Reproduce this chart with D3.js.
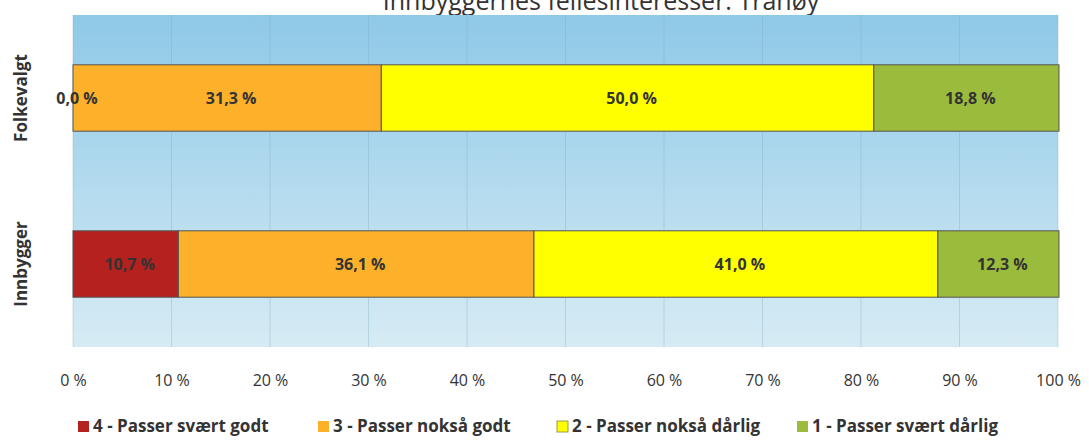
<!DOCTYPE html>
<html>
<head>
<meta charset="utf-8">
<script src="https://cdn.jsdelivr.net/npm/d3@7"></script>
<style>
  body { margin: 0; background: #fff; }
  svg { display: block; }
  text { font-family: "Open Sans", sans-serif; fill: #333; }
</style>
</head>
<body>
<svg id="chart"></svg>
<script>
// verdier lest av bildet
var kategorier = ["Folkevalgt", "Innbygger"];
var serier = ["4 - Passer svært godt", "3 - Passer nokså godt", "2 - Passer nokså dårlig", "1 - Passer svært dårlig"];
var folkevalgt = [0.0, 31.3, 50.0, 18.8];
var innbygger = [10.7, 36.1, 41.0, 12.3];
var xTicks = [0, 10, 20, 30, 40, 50, 60, 70, 80, 90, 100];
var farger = ["#b4211f", "#fdb12a", "#ffff00", "#9bbb3c"];
var tittel = "Innbyggernes fellesinteresser: Tranøy";

var width = 1089, height = 441;
var margin = { top: 15, right: 31, bottom: 94, left: 73 };
var w = width - margin.left - margin.right,
    h = height - margin.top - margin.bottom;

var svg = d3.select("#chart").attr("width", width).attr("height", height);

// bakgrunnsgradient
var defs = svg.append("defs");
var grad = defs.append("linearGradient").attr("id", "bg")
    .attr("x1", 0).attr("y1", 0).attr("x2", 0).attr("y2", 1);
grad.append("stop").attr("offset", "0%").attr("stop-color", "#8ec9e7");
grad.append("stop").attr("offset", "50%").attr("stop-color", "#b2daee");
grad.append("stop").attr("offset", "100%").attr("stop-color", "#d6ebf4");

// tittelen er delvis kuttet i toppen, som i originalen
svg.append("text")
    .attr("x", 601).attr("y", 10)
    .attr("text-anchor", "middle")
    .style("font-size", "25px")
    .text(tittel);

var g = svg.append("g").attr("transform", "translate(" + margin.left + "," + margin.top + ")");

var x = d3.scaleLinear().domain([0, 100]).range([0, w]);
var y = d3.scaleBand().domain(kategorier).range([0, h]).paddingInner(0.6).paddingOuter(0.3);

g.append("rect").attr("width", w).attr("height", h).attr("fill", "url(#bg)");

// rutenett
g.selectAll(".grid").data(xTicks).enter().append("line")
    .attr("x1", function (d) { return x(d); })
    .attr("x2", function (d) { return x(d); })
    .attr("y1", 0).attr("y2", h)
    .attr("stroke", "#7fa9bd").attr("stroke-opacity", 0.35).attr("stroke-width", 1);

// stablede data
var rader = [folkevalgt, innbygger].map(function (verdier, i) {
    var row = { kategori: kategorier[i] };
    serier.forEach(function (s, j) { row[s] = verdier[j]; });
    return row;
});
var stack = d3.stack().keys(serier)(rader);

var lag = g.selectAll(".lag").data(stack).enter().append("g")
    .attr("fill", function (d, i) { return farger[i]; });

lag.selectAll("rect").data(function (d) { return d; }).enter().append("rect")
    .attr("x", function (d) { return x(d[0]); })
    .attr("width", function (d) { return x(d[1]) - x(d[0]); })
    .attr("y", function (d) { return y(d.data.kategori); })
    .attr("height", y.bandwidth())
    .attr("stroke", "#555")
    .attr("stroke-width", 1);

// etiketter i eget lag over alle stolpene
var etikettLag = g.selectAll(".etiketter").data(stack).enter().append("g");
etikettLag.selectAll("text").data(function (d) { return d; }).enter().append("text")
    .attr("x", function (d) { return x((d[0] + d[1]) / 2) + 4; })
    .attr("y", function (d) { return y(d.data.kategori) + y.bandwidth() / 2; })
    .attr("dy", "0.35em")
    .attr("text-anchor", "middle")
    .style("font-size", "16px")
    .style("font-weight", "bold")
    .text(function (d) { return d3.format(".1f")(d[1] - d[0]).replace(".", ",") + " %"; });

// x-akse
var xAxis = g.append("g")
    .attr("transform", "translate(0," + h + ")")
    .call(d3.axisBottom(x).tickValues(xTicks).tickSize(0).tickPadding(28)
        .tickFormat(function (d) { return d + " %"; }));
xAxis.select(".domain").remove();
xAxis.selectAll("text").style("font-size", "16px").style("fill", "#333")
    .style("font-family", "\"Open Sans\", sans-serif");

// y-akse
kategorier.forEach(function (k) {
    svg.append("text")
        .attr("transform", "translate(27," + (margin.top + y(k) + y.bandwidth() / 2) + ") rotate(-90)")
        .attr("text-anchor", "middle")
        .style("font-size", "17px")
        .style("font-weight", "bold")
        .text(k);
});

// legende
var legX = [78, 318, 557, 797];
var leg = svg.selectAll(".leg").data(serier).enter().append("g")
    .attr("transform", function (d, i) { return "translate(" + legX[i] + ",432)"; });
leg.append("rect")
    .attr("x", 0).attr("y", -11).attr("width", 11).attr("height", 11)
    .attr("fill", function (d, i) { return farger[i]; })
    .attr("stroke", function (d, i) { return i == 2 ? "#9a9a50" : "none"; });
leg.append("text")
    .attr("x", 15).attr("y", 0)
    .style("font-size", "17px")
    .style("font-weight", "bold")
    .text(function (d) { return d; });
</script>
</body>
</html>
